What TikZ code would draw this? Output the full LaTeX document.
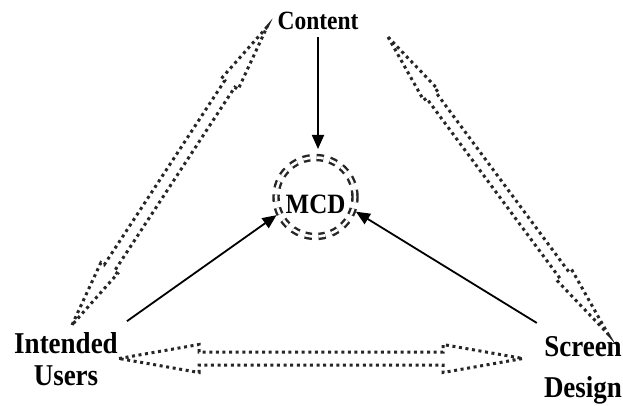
\documentclass[tikz,border=0pt]{standalone}
\usepackage{fontspec}
\usepackage{graphicx}
\setmainfont{Liberation Serif}
\usetikzlibrary{arrows.meta,calc}
\newcommand{\tall}[1]{\scalebox{1}[1.12]{#1}}
\newcommand{\hollowarrow}[5]{%
\draw[dotline] (#1)
  -- ($(#1)!#3!(#2)!#5!90:(#2)$) -- ($(#1)!#3!(#2)!#4!90:(#2)$)
  -- ($(#2)!#3!(#1)!#4!-90:(#1)$) -- ($(#2)!#3!(#1)!#5!-90:(#1)$)
  -- (#2)
  -- ($(#2)!#3!(#1)!#5!90:(#1)$) -- ($(#2)!#3!(#1)!#4!90:(#1)$)
  -- ($(#1)!#3!(#2)!#4!-90:(#2)$) -- ($(#1)!#3!(#2)!#5!-90:(#2)$)
  -- cycle;}
\begin{document}
\begin{tikzpicture}[x=1pt, y=-1pt,
  lbl/.style={font=\fontsize{27}{32}\selectfont\bfseries, align=center, inner sep=2pt},
  arr/.style={-{Triangle[length=14pt,width=12pt]}, line width=1.8pt},
  dotline/.style={draw=black!85, line width=3pt, dash pattern=on 3pt off 3.6pt},
  ring/.style={circle, draw=black!85, double, double distance=2.6pt, line width=2.4pt,
    dash pattern=on 7pt off 6.5pt, minimum size=79pt, inner sep=0pt, outer sep=3.5pt,
    text height=32pt, text depth=0pt}]
\useasboundingbox (0,0) rectangle (623,406);
\node[lbl, anchor=base, font=\fontsize{23.5}{28}\selectfont\bfseries] (ct) at (318,30) {\tall{Content}};
\node[ring, font=\fontsize{25}{30}\selectfont\bfseries] (mcd) at (315.5,197) {\tall{MCD}};
\node[lbl] (iu) at (66,359) {\tall{Intended}\\\tall{Users}};
\node[lbl, font=\fontsize{27}{41}\selectfont\bfseries] (sd) at (583,370) {\tall{Screen}\\\tall{Design}};
\draw[arr, shorten <=5pt, shorten >=5pt] (ct) -- (ct |- mcd.north);
\draw[arr] ([xshift=7pt,yshift=9pt]iu.north east) -- (mcd.205);
\draw[arr] ([xshift=-5pt,yshift=11pt]sd.north west) -- (mcd.-20);
\coordinate (l1) at (72,325);
\coordinate (l2) at (267,27);
\coordinate (r1) at (388,37);
\coordinate (r2) at (608,334);
\coordinate (b1) at (119,358.5);
\coordinate (b2) at (523,358.5);
\hollowarrow{l1}{l2}{68pt}{6pt}{10pt}
\hollowarrow{r1}{r2}{72pt}{5.5pt}{9pt}
\hollowarrow{b1}{b2}{80pt}{6.5pt}{14pt}
\end{tikzpicture}
\end{document}
